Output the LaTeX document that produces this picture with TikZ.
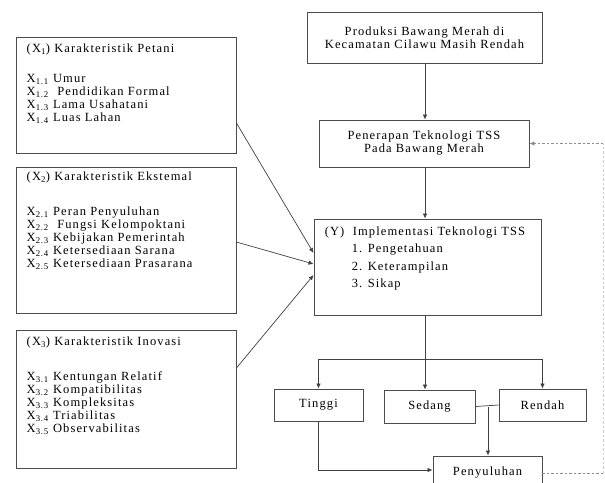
\documentclass[tikz,border=0pt]{standalone}
\usepackage{fontspec}
\setmainfont[LetterSpace=9]{Liberation Serif}
\usetikzlibrary{arrows.meta}

\tikzset{
  box/.style={draw=black!70, line width=0.9pt, fill=white, inner sep=0pt},
  txt/.style={anchor=north west, align=left, inner sep=0pt},
  arr/.style={draw=black!75, line width=0.7pt, -{Latex[length=5pt,width=4.5pt]}},
  fb/.style={draw=black!45, line width=0.7pt, dash pattern=on 2.5pt off 2pt}
}

\begin{document}
\begin{tikzpicture}[x=1pt,y=-1pt,font=\fontsize{12.5}{13}\selectfont]
    \useasboundingbox (0,0) rectangle (605,482);

    \node[box, minimum width=220pt, minimum height=116pt,
      label={[txt, xshift=11pt, yshift=-7pt]north west:{(X\textsubscript{1}) Karakteristik Petani\\[17pt]
        X\textsubscript{1.1} Umur\\
        X\textsubscript{1.2} \ Pendidikan Formal\\
        X\textsubscript{1.3} Lama Usahatani\\
        X\textsubscript{1.4} Luas Lahan}}] (petani) at (126,95) {};
    \node[box, minimum width=220pt, minimum height=146pt,
      label={[txt, xshift=11pt, yshift=-5pt]north west:{(X\textsubscript{2}) Karakteristik Ekstemal\\[22pt]
        X\textsubscript{2.1} Peran Penyuluhan\\
        X\textsubscript{2.2} \ Fungsi Kelompoktani\\
        X\textsubscript{2.3} Kebijakan Pemerintah\\
        X\textsubscript{2.4} Ketersediaan Sarana\\
        X\textsubscript{2.5} Ketersediaan Prasarana}}] (ekstern) at (126,240) {};
    \node[box, minimum width=220pt, minimum height=138pt,
      label={[txt, xshift=11pt, yshift=-7pt]north west:{(X\textsubscript{3}) Karakteristik Inovasi\\[22pt]
        X\textsubscript{3.1} Kentungan Relatif\\
        X\textsubscript{3.2} Kompatibilitas\\
        X\textsubscript{3.3} Kompleksitas\\
        X\textsubscript{3.4} Triabilitas\\
        X\textsubscript{3.5} Observabilitas}}] (inovasi) at (126,399) {};

    \node[box, minimum width=235pt, minimum height=51pt, align=center] (produksi) at (424.5,37.5)
      {Produksi Bawang Merah di\\Kecamatan Cilawu Masih Rendah};
    \node[box, minimum width=210pt, minimum height=47pt, align=center] (penerapan) at (424,143.5)
      {Penerapan Teknologi TSS\\Pada Bawang Merah};
    \node[box, minimum width=227pt, minimum height=96pt,
      label={[txt, xshift=11pt, yshift=-8pt]north west:{(Y) \ Implementasi Teknologi TSS\\[4.5pt]
        \hspace*{27pt}\makebox[16pt][l]{1.}Pengetahuan\\[4.5pt]
        \hspace*{27pt}\makebox[16pt][l]{2.}Keterampilan\\[4.5pt]
        \hspace*{27pt}\makebox[16pt][l]{3.}Sikap}}] (impl) at (427.5,267) {};

    \node[box, minimum width=89pt, minimum height=32pt] (tinggi) at (318.5,405) {Tinggi};
    \node[box, minimum width=91pt, minimum height=33pt] (sedang) at (429.5,406.5) {Sedang};
    \node[box, minimum width=87pt, minimum height=32pt] (rendah) at (542.5,405) {Rendah};
    \node[box, minimum width=109pt, minimum height=34pt] (penyuluhan) at (487.5,473) {Penyuluhan};

    \coordinate (split) at (425,359);
    \coordinate (sr) at (488,407);
    \coordinate (loop) at (603,0);

    \draw[arr] (produksi.south -| 425,0) -- (penerapan.north -| 425,0);
    \draw[arr] (penerapan.south -| 425,0) -- (impl.north -| 425,0);
    \draw[arr] ([yshift=-28pt]petani.east) -- ([yshift=14pt]impl.west);
    \draw[arr] ([yshift=-2pt]ekstern.east) -- ([yshift=3pt]impl.west);
    \draw[arr] ([yshift=31pt]inovasi.east) -- ([yshift=-8pt]impl.west);

    \draw[arr] (impl.south -| split) -- (sedang.north -| split);
    \draw[arr] (split) -| (tinggi.north);
    \draw[arr] (split) -| (rendah.north);
    \draw[draw=black!75, line width=0.7pt] (sedang.east) -- (rendah.west);
    \draw[arr] (sr) -- (sr |- penyuluhan.north);
    \draw[arr] (tinggi.south) |- ([yshift=3pt]penyuluhan.west);

    \draw[fb] (penyuluhan.east) -- (penyuluhan.east -| loop);
    \draw[fb, draw=black!20] (penyuluhan.east -| loop) -- (penerapan.east -| loop);
    \draw[fb, -{Latex[length=5pt,width=4.5pt]}] (penerapan.east -| loop) -- (penerapan.east);
\end{tikzpicture}
\end{document}
